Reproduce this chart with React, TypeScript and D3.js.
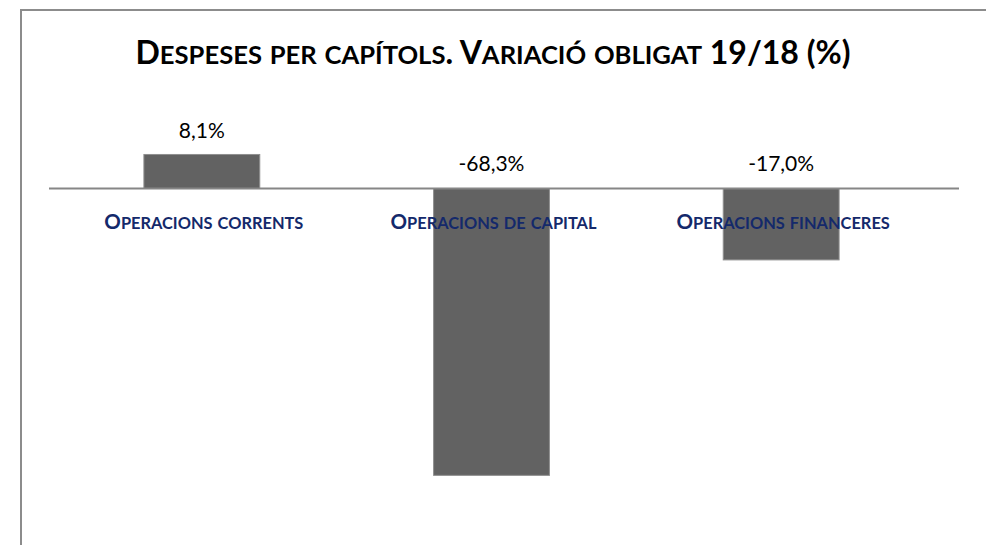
import React, { useEffect, useRef } from 'react'
import * as d3 from 'd3'

const categories = ['Operacions corrents', 'Operacions de capital', 'Operacions financeres']
const values = [8.1, -68.3, -17.0]
const valueLabels = ['8,1%', '-68,3%', '-17,0%']
const title = 'Despeses per capítols. Variació obligat 19/18 (%)'

const W = 986
const H = 545
const FONT = 'Lato, "Open Sans", sans-serif'

// splits text into runs for fake small caps (lowercase -> smaller uppercase)
function smallCaps(sel, text, size, ratio = 0.8) {
  const runs = []
  for (const ch of text) {
    const small = ch !== ch.toUpperCase()
    const last = runs[runs.length - 1]
    if (last && last.small === small) last.t += ch
    else runs.push({ t: ch, small })
  }
  sel.selectAll('tspan')
    .data(runs)
    .enter()
    .append('tspan')
    .attr('font-size', d => (d.small ? size * ratio : size))
    .text(d => d.t.toUpperCase())
}

const App = () => {
  const ref = useRef()

  useEffect(() => {
    const svg = d3.select(ref.current)
    svg.selectAll('*').remove()

    const x = d3.scaleBand()
      .domain(categories)
      .range([57, 926])
      .paddingInner(0.6)
      .paddingOuter(0.3)

    const y = d3.scaleLinear()
      .domain([-80, 20])
      .range([524.5, 104.5])

    // chart border (runs off the page on right and bottom)
    svg.append('rect')
      .attr('x', 21)
      .attr('y', 10)
      .attr('width', W)
      .attr('height', H)
      .attr('fill', '#fff')
      .attr('stroke', '#8c8c8c')
      .attr('stroke-width', 2)

    const t = svg.append('text')
      .attr('x', 493)
      .attr('y', 64)
      .attr('text-anchor', 'middle')
      .attr('font-family', FONT)
      .attr('font-weight', 700)
      .attr('fill', '#000')
    smallCaps(t, title, 32)

    svg.append('g')
      .selectAll('rect')
      .data(values)
      .enter()
      .append('rect')
      .attr('x', (d, i) => x(categories[i]))
      .attr('width', x.bandwidth())
      .attr('y', d => y(Math.max(0, d)))
      .attr('height', d => Math.abs(y(d) - y(0)))
      .attr('fill', '#626262')
      .attr('stroke', '#8f8f8f')
      .attr('stroke-width', 1)

    // zero line
    svg.append('line')
      .attr('x1', 49)
      .attr('x2', 959)
      .attr('y1', y(0))
      .attr('y2', y(0))
      .attr('stroke', '#868686')
      .attr('stroke-width', 2)

    svg.append('g')
      .selectAll('text')
      .data(values)
      .enter()
      .append('text')
      .attr('x', (d, i) => x(categories[i]) + x.bandwidth() / 2)
      .attr('y', d => (d > 0 ? y(d) - 16 : y(0) - 18))
      .attr('text-anchor', 'middle')
      .attr('font-family', FONT)
      .attr('font-size', 21)
      .attr('fill', '#000')
      .text((d, i) => valueLabels[i])

    svg.append('g')
      .selectAll('text')
      .data(categories)
      .enter()
      .append('text')
      .attr('x', d => x(d) + x.bandwidth() / 2 + 2)
      .attr('y', y(0) + 40)
      .attr('text-anchor', 'middle')
      .attr('font-family', FONT)
      .attr('font-weight', 700)
      .attr('fill', '#14296b')
      .each(function (d) { smallCaps(d3.select(this), d, 20.5) })
  }, [])

  return (
    <svg ref={ref} width={W} height={H} style={{ position: 'absolute', left: 0, top: 0 }}></svg>
  )
}

export default App
